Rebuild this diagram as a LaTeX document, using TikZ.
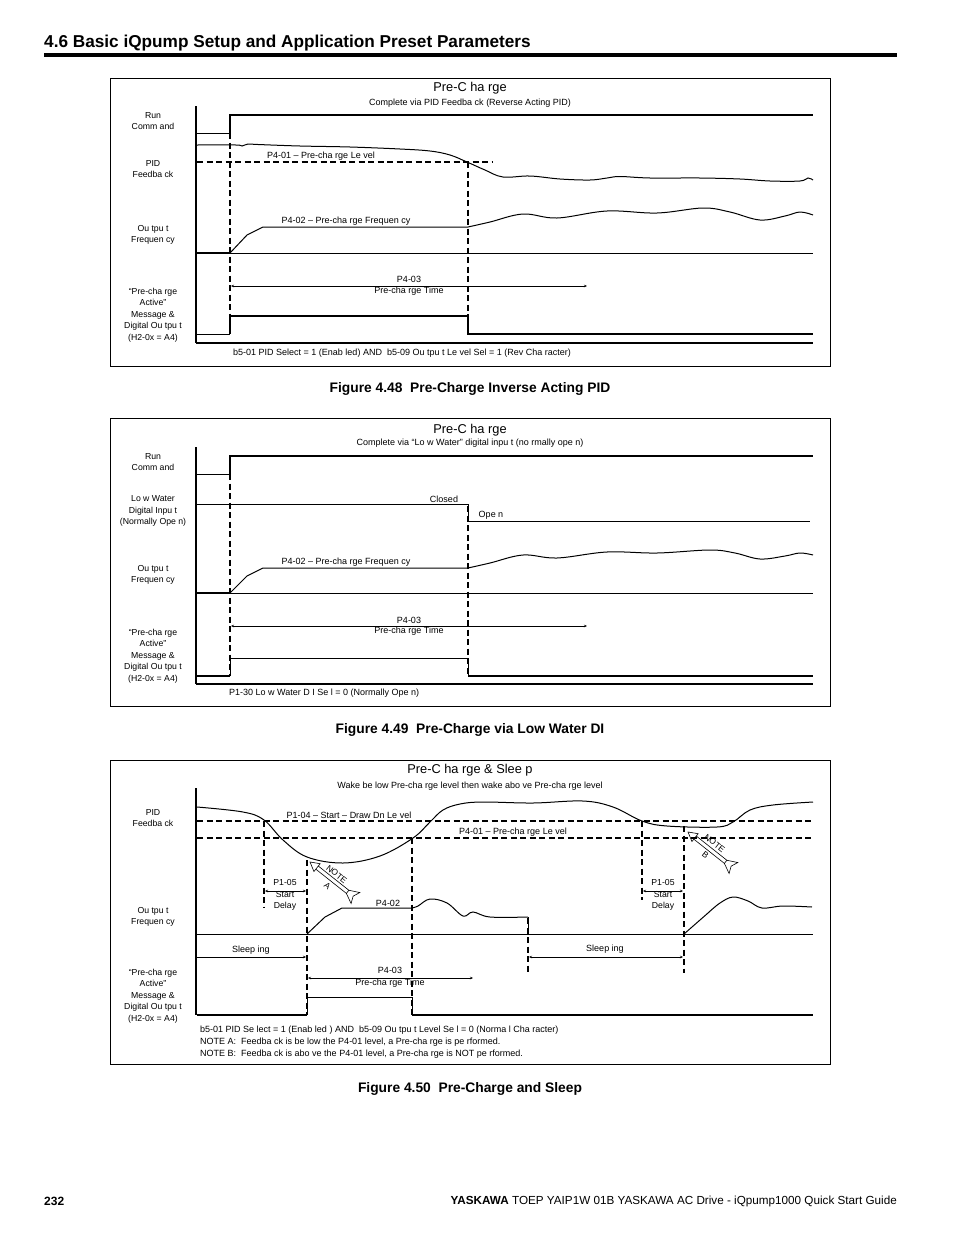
\documentclass[tikz,border=0pt]{standalone}
\usepackage{fontspec}
\setmainfont{Liberation Sans}
\usetikzlibrary{arrows.meta}
\begin{document}
\begin{tikzpicture}[x=1pt,y=-1pt,
  lbl/.style={font=\fontsize{8.7}{11.5}\selectfont, align=center, inner sep=0pt},
  sm/.style={font=\fontsize{9}{11}\selectfont, inner sep=0pt},
  ttl/.style={font=\fontsize{12.8}{15}\selectfont, inner sep=0pt},
  sub/.style={font=\fontsize{9}{11}\selectfont, inner sep=0pt},
  figcap/.style={font=\bfseries\fontsize{13.8}{16}\selectfont, inner sep=0pt},
  notelbl/.style={font=\fontsize{8.5}{15}\selectfont, align=center, inner sep=0pt, rotate=-38.4},
  frame/.style={draw, line width=0.9pt},
  axis/.style={line width=1.8pt},
  sig/.style={line width=1pt},
  thk/.style={line width=1.7pt},
  dsh/.style={line width=1.8pt, dash pattern=on 6pt off 3.5pt},
  tarr/.style={line width=0.7pt, {Stealth[length=3pt,width=2.5pt]}-{Stealth[length=3pt,width=2.5pt]}},
  rarr/.style={line width=0.7pt, -{Stealth[length=3pt,width=2.5pt]}},
  notearrow/.pic={
    \draw[line width=0.6pt] (0,0) -- (9,5) -- (9,-5) -- cycle;
    \draw[line width=0.6pt] (9,2) -- (50,2) (9,-2) -- (50,-2);
    \draw[line width=0.6pt, fill=white] (48,2) -- (58,7) -- (55,0) -- (58,-7) -- (48,-2) -- cycle;
  },
]
\fill[white] (0,0) rectangle (954,1235);
\useasboundingbox (0,0) rectangle (954,1235);

% header
\node[anchor=west, font=\bfseries\fontsize{17.2}{20}\selectfont, inner sep=0pt] (hdr) at (44,43) {4.6 Basic iQpump Setup and Application Preset Parameters};
\draw[line width=3.5pt] (44,55) -- (897,55);

% ================= Figure 1 =================
\draw[frame] (110,78) rectangle (830,366);
\node[ttl] (t1) at (470,88) {Pre-C ha rge};
\node[sub] (s1) at (470,103) {Complete via PID Feedba ck (Reverse Acting PID)};
\node[lbl] (l1a) at (153,121) {Run\\Comm and};
\node[lbl] (l1b) at (153,169) {PID\\Feedba ck};
\node[lbl] (l1c) at (153,235) {Ou tpu t\\Frequen cy};
\node[lbl] (l1d) at (153,315) {“Pre-cha rge\\Active”\\Message \&\\Digital Ou tpu t\\(H2-0x = A4)};
\draw[axis] (196,106) -- (196,343);
\draw[thk] (196,343) -- (813,343);
% run
\draw[sig] (197,133) -- (230,133);
\draw[thk] (230,133) -- (230,115) -- (813,115);
% PID feedback
\draw[dsh] (197,162) -- (492,162);
\node[sm] (p401a) at (321,156) {P4-01 – Pre-cha rge Le vel};
\draw[sig] plot[smooth, tension=0.6] coordinates {(197,145) (236,145) (242,146) (248,144) (258,144.5) (300,146) (350,147) (400,149) (430,151) (450,155) (467,162) (485,170) (503,177) (530,176) (560,179) (590,180) (607,178) (620,176.5) (650,178) (700,178) (740,179) (770,181) (800,181) (808,178) (813,180)};
% output frequency
\draw[thk] (197,253) -- (230,253);
\draw[sig] (230,253) -- (813,253);
\draw[sig] (230,253) -- (247,235) -- (263,227) -- (468,227);
\draw[sig] plot[smooth, tension=0.6] coordinates {(468,227) (490,222) (523,214) (557,218) (607,211) (657,213) (703,208) (730,212) (760,220) (785,216) (800,212) (813,215)};
\node[sm] (p402a) at (346,221) {P4-02 – Pre-cha rge Frequen cy};
% dashed verticals
\draw[dsh] (230,133) -- (230,334);
\draw[dsh] (468,162) -- (468,334);
% P4-03
\draw[tarr] (231,286) -- (587,286);
\node[sm] (p403a) at (409,279) {P4-03};
\node[sm] (p403b) at (409,291) {Pre-cha rge Time};
% digital output
\draw[sig] (197,334) -- (230,334);
\draw[thk] (230,334) -- (230,316) -- (468,316) -- (468,334) -- (813,334);
\node[sm, anchor=west] (b1) at (233,353) {b5-01 PID Select = 1 (Enab led) AND \ b5-09 Ou tpu t Le vel Sel = 1 (Rev Cha racter)};
\node[figcap] (c1) at (470,389) {Figure 4.48 \ Pre-Charge Inverse Acting PID};

% ================= Figure 2 =================
\draw[frame] (110,418) rectangle (830,706);
\node[ttl] (t2) at (470,430) {Pre-C ha rge};
\node[sub] (s2) at (470,443) {Complete via “Lo w Water” digital inpu t (no rmally ope n)};
\node[lbl] (l2a) at (153,462) {Run\\Comm and};
\node[lbl] (l2b) at (153,511) {Lo w Water\\Digital Inpu t\\(Normally Ope n)};
\node[lbl] (l2c) at (153,575) {Ou tpu t\\Frequen cy};
\node[lbl] (l2d) at (153,656) {“Pre-cha rge\\Active”\\Message \&\\Digital Ou tpu t\\(H2-0x = A4)};
\draw[axis] (196,447) -- (196,684);
\draw[thk] (196,684) -- (813,684);
% run
\draw[sig] (197,474) -- (230,474);
\draw[thk] (230,474) -- (230,456) -- (813,456);
% low water
\draw[sig] (197,504) -- (468,504) -- (468,521) -- (810,521);
\node[sm] (cl) at (444,499) {Closed};
\node[sm] (op) at (491,515) {Ope n};
% output frequency
\draw[thk] (197,593) -- (230,593);
\draw[sig] (230,593) -- (813,593);
\draw[sig] (230,593) -- (247,576) -- (263,568) -- (468,568);
\draw[sig] plot[smooth, tension=0.6] coordinates {(468,568) (490,563) (523,555) (557,558) (607,552) (657,553) (710,550) (735,553) (760,559) (785,556) (800,553) (813,555)};
\node[sm] (p402b) at (346,562) {P4-02 – Pre-cha rge Frequen cy};
% dashed
\draw[dsh] (230,474) -- (230,676);
\draw[dsh] (468,506) -- (468,676);
% P4-03
\draw[tarr] (231,626) -- (587,626);
\node[sm] (p403c) at (409,620) {P4-03};
\node[sm] (p403d) at (409,631) {Pre-cha rge Time};
% DO
\draw[thk] (197,676) -- (230,676);
\draw[sig] (230,676) -- (230,658) -- (468,658) -- (468,676);
\draw[thk] (468,676) -- (813,676);
\node[sm, anchor=west] (b2) at (229,693) {P1-30 Lo w Water D I Se l = 0 (Normally Ope n)};
\node[figcap] (c2) at (470,730) {Figure 4.49 \ Pre-Charge via Low Water DI};

% ================= Figure 3 =================
\draw[frame] (110,760) rectangle (830,1064);
\node[ttl] (t3) at (470,770) {Pre-C ha rge \& Slee p};
\node[sub] (s3) at (470,786) {Wake be low Pre-cha rge level then wake abo ve Pre-cha rge level};
\node[lbl] (l3a) at (153,818) {PID\\Feedba ck};
\node[lbl] (l3c) at (153,917) {Ou tpu t\\Frequen cy};
\node[lbl] (l3d) at (153,996) {“Pre-cha rge\\Active”\\Message \&\\Digital Ou tpu t\\(H2-0x = A4)};
\draw[axis] (196,788) -- (196,1015);
% levels
\draw[dsh] (197,821) -- (813,821);
\draw[dsh] (197,838) -- (813,838);
\node[sm] (p104) at (349,815) {P1-04 – Start – Draw Dn Le vel};
\node[sm] (p401b) at (513,832) {P4-01 – Pre-cha rge Le vel};
% PID curve
\draw[sig] plot[smooth, tension=0.6] coordinates {(197,807) (243,812) (264,820) (283,840) (307,857) (343,863) (380,856) (413,838) (430,822) (443,810) (460,804) (483,802) (533,803) (583,801) (613,807) (642,821) (667,826) (717,827) (733,822) (750,810) (773,805) (813,802)};
% dashed verticals
\draw[dsh] (264,821) -- (264,908);
\draw[dsh] (307,860) -- (307,1015);
\draw[dsh] (412,838) -- (412,1015);
\draw[dsh] (528,918) -- (528,973);
\draw[dsh] (642,821) -- (642,900);
\draw[dsh] (684,826) -- (684,973);
% start delays
\draw[tarr] (265,891) -- (306,891);
\node[lbl] (sd1) at (285,895) {P1-05\\Start\\Delay};
\draw[tarr] (643,891) -- (683,891);
\node[lbl] (sd2) at (663,895) {P1-05\\Start\\Delay};
% notes
\pic[rotate=-38.4] at (310,862) {notearrow};
\node[notelbl] (na) at (332,880) {NOTE\\A};
\pic[rotate=-38.4] at (688,832) {notearrow};
\node[notelbl] (nb) at (710,849) {NOTE\\B};
% output frequency
\draw[sig] (197,934) -- (813,934);
\draw[sig] (307,934) -- (325,917) -- (342,908) -- (412,908);
\draw[sig] plot[smooth, tension=0.6] coordinates {(412,908) (418,906) (430,899) (447,903) (463,916) (473,912) (490,917) (528,917)};
\draw[sig] (528,917) -- (528,934);
\node[sm] (p402c) at (388,903) {P4-02};
\draw[sig] (684,934) -- (708,913);
\draw[sig] plot[smooth, tension=0.6] coordinates {(708,913) (720,903) (733,897) (748,901) (762,908) (783,906) (812,907)};
% sleeping
\draw[rarr] (197,957) -- (306,957);
\node[sm] (sl1) at (251,950) {Sleep ing};
\draw[tarr] (529,957) -- (683,957);
\node[sm] (sl2) at (605,949) {Sleep ing};
% P4-03
\draw[tarr] (308,978) -- (473,978);
\node[sm] (p403e) at (390,970) {P4-03};
\node[sm] (p403f) at (390,983) {Pre-cha rge Time};
% DO
\draw[thk] (197,1015) -- (307,1015);
\draw[sig] (307,1015) -- (307,997) -- (412,997) -- (412,1015);
\draw[thk] (412,1015) -- (813,1015);
\node[sm, anchor=west] (b3a) at (200,1030) {b5-01 PID Se lect = 1 (Enab led ) AND \ b5-09 Ou tpu t Level Se l = 0 (Norma l Cha racter)};
\node[sm, anchor=west] (b3b) at (200,1042) {NOTE A: \ Feedba ck is be low the P4-01 level, a Pre-cha rge is pe rformed.};
\node[sm, anchor=west] (b3c) at (200,1054) {NOTE B: \ Feedba ck is abo ve the P4-01 level, a Pre-cha rge is NOT pe rformed.};
\node[figcap] (c3) at (470,1089) {Figure 4.50 \ Pre-Charge and Sleep};

% footer
\node[anchor=west, font=\bfseries\fontsize{12}{14}\selectfont, inner sep=0pt] (pg) at (44,1201) {232};
\node[anchor=east, font=\fontsize{11.7}{14}\selectfont, inner sep=0pt] (ft) at (897,1201) {\textbf{YASKAWA} TOEP YAIP1W 01B YASKAWA AC Drive - iQpump1000 Quick Start Guide};
\end{tikzpicture}
\end{document}
